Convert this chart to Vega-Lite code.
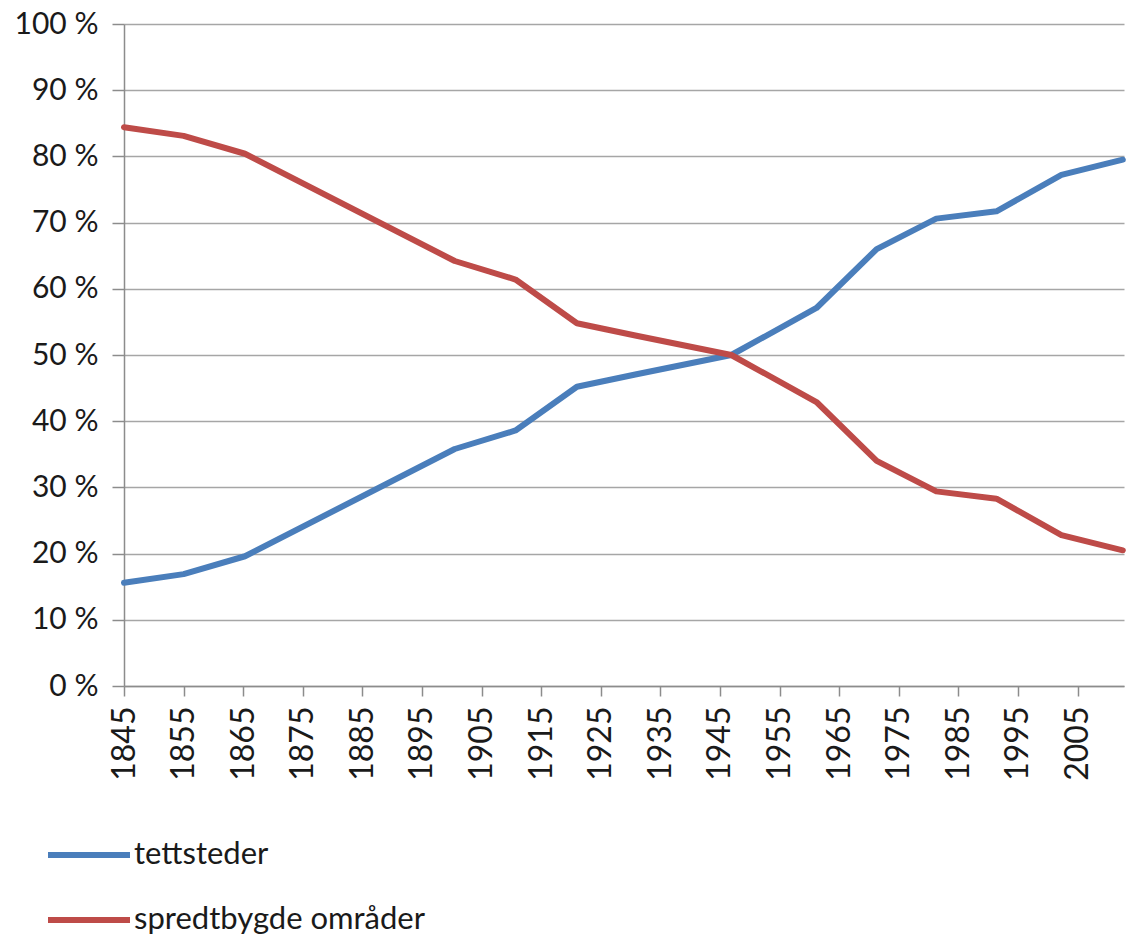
{
  "$schema": "https://vega.github.io/schema/vega-lite/v6.json",
  "width": 1000,
  "height": 662,
  "autosize": {"type": "none"},
  "padding": {"left": 124, "top": 24, "right": 4, "bottom": 253},
  "background": "white",
  "config": {"view": {"stroke": null}, "font": "Lato"},
  "data": {
    "values": [
      {"year": 1845, "serie": "tettsteder", "share": 15.6},
      {"year": 1855, "serie": "tettsteder", "share": 16.9},
      {"year": 1865.3, "serie": "tettsteder", "share": 19.6},
      {"year": 1900.5, "serie": "tettsteder", "share": 35.8},
      {"year": 1910.7, "serie": "tettsteder", "share": 38.6},
      {"year": 1921, "serie": "tettsteder", "share": 45.2},
      {"year": 1931, "serie": "tettsteder", "share": 47.1},
      {"year": 1946.9, "serie": "tettsteder", "share": 50.0},
      {"year": 1961.2, "serie": "tettsteder", "share": 57.1},
      {"year": 1971.3, "serie": "tettsteder", "share": 66.0},
      {"year": 1981.3, "serie": "tettsteder", "share": 70.6},
      {"year": 1991.4, "serie": "tettsteder", "share": 71.7},
      {"year": 2002.3, "serie": "tettsteder", "share": 77.2},
      {"year": 2012.6, "serie": "tettsteder", "share": 79.5},
      {"year": 1845, "serie": "spredtbygde områder", "share": 84.4},
      {"year": 1855, "serie": "spredtbygde områder", "share": 83.1},
      {"year": 1865.3, "serie": "spredtbygde områder", "share": 80.4},
      {"year": 1900.5, "serie": "spredtbygde områder", "share": 64.2},
      {"year": 1910.7, "serie": "spredtbygde områder", "share": 61.4},
      {"year": 1921, "serie": "spredtbygde områder", "share": 54.8},
      {"year": 1931, "serie": "spredtbygde områder", "share": 52.9},
      {"year": 1946.9, "serie": "spredtbygde områder", "share": 50.0},
      {"year": 1961.2, "serie": "spredtbygde områder", "share": 42.9},
      {"year": 1971.3, "serie": "spredtbygde områder", "share": 34.0},
      {"year": 1981.3, "serie": "spredtbygde områder", "share": 29.4},
      {"year": 1991.4, "serie": "spredtbygde områder", "share": 28.3},
      {"year": 2002.3, "serie": "spredtbygde områder", "share": 22.8},
      {"year": 2012.6, "serie": "spredtbygde områder", "share": 20.5}
    ]
  },
  "mark": {"type": "line", "strokeWidth": 6, "strokeJoin": "round", "strokeCap": "round"},
  "encoding": {
    "x": {
      "field": "year",
      "type": "quantitative",
      "scale": {"domain": [1845, 2012.8], "nice": false, "zero": false},
      "axis": {
        "title": null,
        "values": [1845, 1855, 1865, 1875, 1885, 1895, 1905, 1915, 1925, 1935, 1945, 1955, 1965, 1975, 1985, 1995, 2005],
        "format": "d",
        "labelAngle": -90,
        "labelFontSize": 32,
        "labelColor": "#1a1a1a",
        "labelPadding": 10,
        "tickSize": 10,
        "tickColor": "#8c8c8c",
        "tickWidth": 1.5,
        "domainColor": "#8c8c8c",
        "domainWidth": 1.5,
        "grid": false,
        "labelOverlap": false
      }
    },
    "y": {
      "field": "share",
      "type": "quantitative",
      "scale": {"domain": [0, 100], "nice": false},
      "axis": {
        "title": null,
        "values": [0, 10, 20, 30, 40, 50, 60, 70, 80, 90, 100],
        "labelExpr": "datum.value + ' %'",
        "labelFontSize": 30,
        "labelColor": "#1a1a1a",
        "labelPadding": 14,
        "tickSize": 12,
        "tickColor": "#8c8c8c",
        "tickWidth": 1.5,
        "domainColor": "#8c8c8c",
        "domainWidth": 1.5,
        "grid": true,
        "gridColor": "#a6a6a6",
        "gridWidth": 1.5
      }
    },
    "color": {
      "field": "serie",
      "type": "nominal",
      "scale": {"domain": ["tettsteder", "spredtbygde områder"], "range": ["#4A7EBB", "#BE4B48"]},
      "legend": {
        "title": null,
        "orient": "none",
        "legendX": -79,
        "legendY": 787,
        "direction": "vertical",
        "symbolType": "stroke",
        "symbolSize": 6724,
        "symbolStrokeWidth": 6,
        "labelFontSize": 31,
        "labelColor": "#1a1a1a",
        "labelOffset": 1,
        "labelLimit": 600,
        "rowPadding": 6
      }
    }
  }
}
